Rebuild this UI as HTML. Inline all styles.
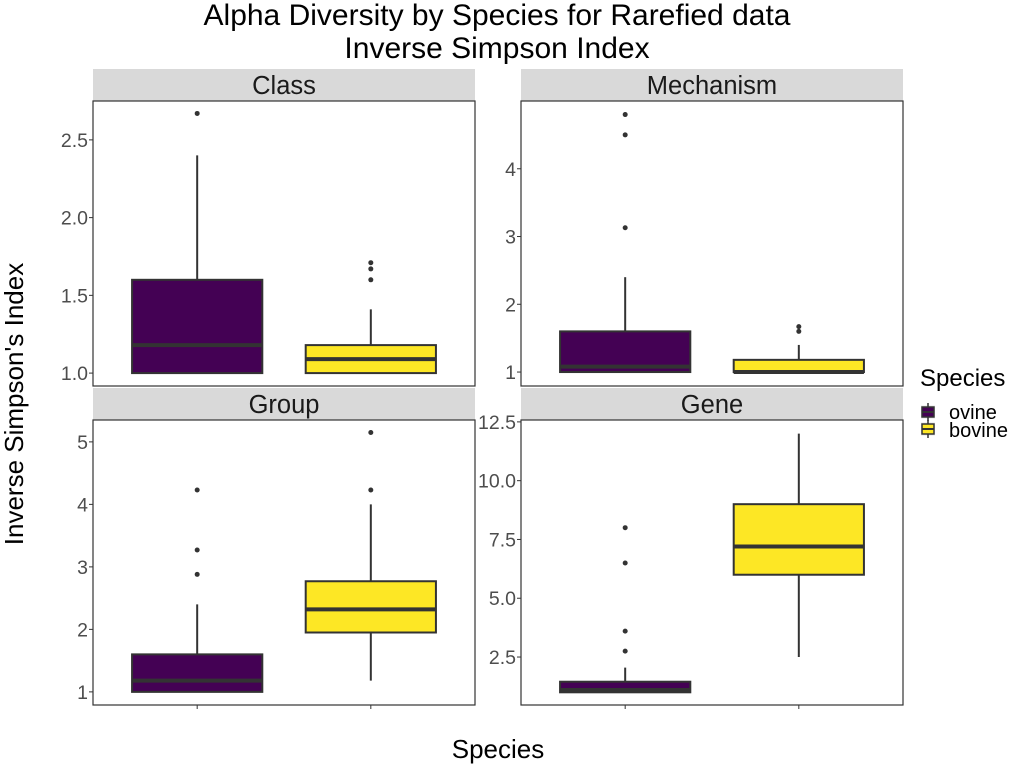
<!DOCTYPE html>
<html><head><meta charset="utf-8"><style>
body{margin:0;background:#fff;}
svg{display:block;font-family:"Liberation Sans",sans-serif;}
</style></head><body>
<svg id="chart" width="1024" height="768" viewBox="0 0 1024 768">
<text x="497" y="25" text-anchor="middle" font-size="30" fill="#000">Alpha Diversity by Species for Rarefied data</text>
<text x="497" y="58" text-anchor="middle" font-size="30" fill="#000">Inverse Simpson Index</text>
<text x="498" y="758" text-anchor="middle" font-size="26" fill="#000">Species</text>
<text transform="translate(23,404) rotate(-90)" text-anchor="middle" font-size="26" fill="#000">Inverse Simpson's Index</text>
<g>
<text x="920" y="386" font-size="24" fill="#000">Species</text>
<g>
<rect x="921" y="405" width="14" height="14" fill="#f2f2f2"/><line x1="928" y1="403" x2="928" y2="421" stroke="#333" stroke-width="1.5"/><rect x="922" y="407" width="12" height="10" fill="#440154" stroke="#333" stroke-width="1.5"/><line x1="922" y1="412" x2="934" y2="412" stroke="#333" stroke-width="2"/>
<text x="949" y="419" font-size="20" fill="#000">ovine</text></g>
<g>
<rect x="921" y="422" width="14" height="14" fill="#f2f2f2"/><line x1="928" y1="420" x2="928" y2="438" stroke="#333" stroke-width="1.5"/><rect x="922" y="424" width="12" height="10" fill="#FDE725" stroke="#333" stroke-width="1.5"/><line x1="922" y1="429" x2="934" y2="429" stroke="#333" stroke-width="2"/>
<text x="949" y="437" font-size="20" fill="#000">bovine</text></g>
</g>
</svg>
<script>
const panelNames = ["Class","Mechanism","Group","Gene"];
const species = ["ovine","bovine"];
const colors = ["#440154","#FDE725"];
// [min, q1, median, q3, max]
const classStats = [[1.0,1.0,1.18,1.6,2.4],[1.0,1.0,1.09,1.18,1.41]];
const classOutliers = [[2.67],[1.6,1.67,1.71]];
const mechStats = [[1.0,1.0,1.08,1.6,2.4],[1.0,1.0,1.0,1.18,1.4]];
const mechOutliers = [[3.13,4.5,4.8],[1.6,1.67]];
const groupStats = [[1.0,1.0,1.18,1.6,2.4],[1.18,1.95,2.32,2.77,4.0]];
const groupOutliers = [[2.88,3.27,4.23],[4.23,5.15]];
const geneStats = [[1.0,1.0,1.1,1.45,2.05],[2.5,6.0,7.2,9.0,12.0]];
const geneOutliers = [[2.75,3.6,6.5,8.0],[]];
const classTicks = [1.0,1.5,2.0,2.5];
const mechTicks = [1,2,3,4];
const groupTicks = [1,2,3,4,5];
const geneTicks = [2.5,5.0,7.5,10.0,12.5];
const yRanges = [[0.917,2.75],[0.794,5.0],[0.79,5.35],[0.46,12.58]];
const tickDigits = [1,0,0,1];

const NS="http://www.w3.org/2000/svg";
const svg=document.getElementById('chart');
function mk(tag,attrs,parent){const e=document.createElementNS(NS,tag);for(const k in attrs)e.setAttribute(k,attrs[k]);(parent||svg).appendChild(e);return e;}
const layout=[{x:93,y:101},{x:521,y:101},{x:93,y:420},{x:521,y:420}];
const W=382,H=285;
const allStats=[classStats,mechStats,groupStats,geneStats];
const allOut=[classOutliers,mechOutliers,groupOutliers,geneOutliers];
const allTicks=[classTicks,mechTicks,groupTicks,geneTicks];
panelNames.forEach((name,p)=>{
  const L=layout[p];
  const g=mk('g',{});
  
  
  const [y0,y1]=yRanges[p];
  const ys=v=>L.y+H-(v-y0)/(y1-y0)*H;
  const xs=i=>L.x+(i+1-0.4)/2.2*W;
  const strip=mk('rect',{x:L.x,y:L.y-32,width:W,height:32,fill:'#d9d9d9'},g);
  
  
  const st=mk('text',{x:L.x+W/2,y:L.y-7,'text-anchor':'middle','font-size':25.5,fill:'#1a1a1a'},g);
  st.textContent=name;
  
  
  mk('rect',{x:L.x,y:L.y,width:W,height:H,fill:'#fff',stroke:'#333','stroke-width':1.2},g);
  allTicks[p].forEach(t=>{
    const y=ys(t);
    mk('line',{x1:L.x-4,x2:L.x,y1:y,y2:y,stroke:'#333','stroke-width':1},g);
    const tx=mk('text',{x:L.x-5,y:y+7,'text-anchor':'end','font-size':19.5,fill:'#4d4d4d'},g);
    tx.textContent=t.toFixed(tickDigits[p]);
    
    
  });
  if(p>=2){species.forEach((s,i)=>{mk('line',{x1:xs(i),x2:xs(i),y1:L.y+H,y2:L.y+H+4,stroke:'#333','stroke-width':1},g);});}
  const bw=0.75/2.2*W;
  allStats[p].forEach((st5,i)=>{
    const cx=xs(i);
    const bg=mk('g',{},g);
    
    
    mk('line',{x1:cx,x2:cx,y1:ys(st5[0]),y2:ys(st5[1]),stroke:'#333','stroke-width':2},bg);
    mk('line',{x1:cx,x2:cx,y1:ys(st5[3]),y2:ys(st5[4]),stroke:'#333','stroke-width':2},bg);
    mk('rect',{x:cx-bw/2,y:ys(st5[3]),width:bw,height:Math.max(ys(st5[1])-ys(st5[3]),0.5),fill:colors[i],stroke:'#333','stroke-width':2},bg);
    mk('line',{x1:cx-bw/2,x2:cx+bw/2,y1:ys(st5[2]),y2:ys(st5[2]),stroke:'#333','stroke-width':4},bg);
    allOut[p][i].forEach(o=>{
      const c=mk('circle',{cx:cx,cy:ys(o),r:2.5,fill:'#333'},bg);
      
      
    });
  });
});
</script>
</body></html>
